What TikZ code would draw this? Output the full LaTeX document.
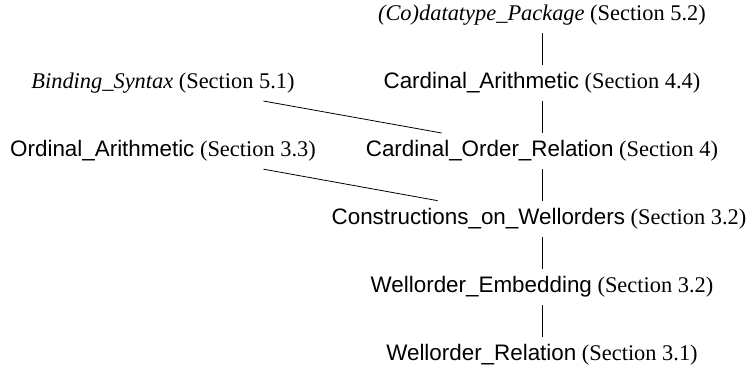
\documentclass[tikz,border=0pt]{standalone}
\usepackage{fontspec}
\setmainfont{Liberation Serif}
\newfontfamily\thyfont{Liberation Sans}
\begin{document}
\begin{tikzpicture}[x=1pt,y=-1pt,
  thy/.style={inner sep=0pt, minimum height=36pt, font=\fontsize{22.4}{26}\selectfont, anchor=center},
  dep/.style={draw=black, line width=0.8pt}]
\useasboundingbox (0,0) rectangle (748,372);
\newcommand{\thyname}[1]{{\thyfont #1}}
\node[thy] (cd)  at (542,15)  {\textit{(Co)datatype\_Package} (Section 5.2)};
\node[thy] (ca)  at (542,83)  {\thyname{Cardinal\_Arithmetic} (Section 4.4)};
\node[thy] (cor) at (542,151) {\thyname{Cardinal\_Order\_Relation} (Section 4)};
\node[thy] (cow) at (539,219) {\thyname{Constructions\_on\_Wellorders} (Section 3.2)};
\node[thy] (we)  at (542,287) {\thyname{Wellorder\_Embedding} (Section 3.2)};
\node[thy] (wr)  at (542,355) {\thyname{Wellorder\_Relation} (Section 3.1)};
\node[thy] (bs)  at (163,83)  {\textit{Binding\_Syntax} (Section 5.1)};
\node[thy] (oa)  at (163,151) {\thyname{Ordinal\_Arithmetic} (Section 3.3)};
\draw[dep] (cd.south -| cor.center) -- (ca.north -| cor.center);
\draw[dep] (ca.south -| cor.center) -- (cor.north -| cor.center);
\draw[dep] (cor.south -| cor.center) -- (cow.north -| cor.center);
\draw[dep] (cow.south -| cor.center) -- (we.north -| cor.center);
\draw[dep] (we.south -| cor.center) -- (wr.north -| cor.center);
\draw[dep, shorten <=102pt, shorten >=102pt] (bs.center) -- (cor.center);
\draw[dep, shorten <=102pt, shorten >=103pt] (oa.center) -- (cow.center);
\end{tikzpicture}
\end{document}
